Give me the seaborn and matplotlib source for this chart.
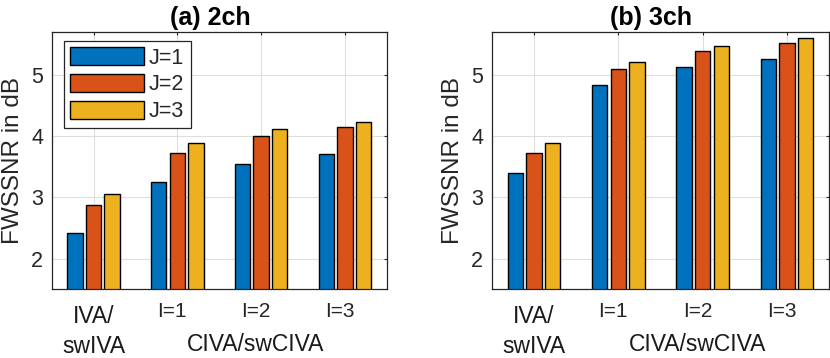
import matplotlib
matplotlib.use('Agg')
import matplotlib.pyplot as plt
import seaborn as sns
import pandas as pd
from matplotlib.transforms import ScaledTranslation, blended_transform_factory

# ---- data ----
groups = ['IVA/\nswIVA', 'I=1', 'I=2', 'I=3']
j_labels = ['J=1', 'J=2', 'J=3']
ch2_j1 = [2.42, 3.25, 3.55, 3.71]
ch2_j2 = [2.87, 3.72, 4.00, 4.15]
ch2_j3 = [3.05, 3.88, 4.11, 4.23]
ch3_j1 = [3.39, 4.83, 5.13, 5.26]
ch3_j2 = [3.73, 5.10, 5.39, 5.52]
ch3_j3 = [3.88, 5.21, 5.46, 5.59]
titles = ['(a) 2ch', '(b) 3ch']
group_caption = 'CIVA/swCIVA'
ylabel = 'FWSSNR in dB'
yticks = [2, 3, 4, 5]
colors = ['#0072BD', '#D95319', '#EDB120']


def long_df(j1, j2, j3):
    rows = []
    for jl, vals in zip(j_labels, [j1, j2, j3]):
        for g, v in zip(groups, vals):
            rows.append({'group': g, 'J': jl, 'value': v})
    return pd.DataFrame(rows)


panels = [long_df(ch2_j1, ch2_j2, ch2_j3), long_df(ch3_j1, ch3_j2, ch3_j3)]

sns.set_style('white')
plt.rcParams['font.family'] = ['Liberation Sans', 'DejaVu Sans']
dark = '#262626'

fig = plt.figure(figsize=(8.3, 3.58), dpi=100)
W, H = 830, 358
ax_rects = [
    [51.7 / W, (H - 289.3) / H, 335.0 / W, 257.6 / H],
    [491.7 / W, (H - 289.3) / H, 337.6 / W, 257.6 / H],
]

for i, (df, rect, title) in enumerate(zip(panels, ax_rects, titles)):
    ax = fig.add_axes(rect)
    sns.barplot(data=df, x='group', y='value', hue='J', order=groups,
                hue_order=j_labels, palette=colors, saturation=1,
                width=0.663, gap=0.17, edgecolor='black', linewidth=1.0,
                errorbar=None, ax=ax, legend=(i == 0))
    ax.set_xlim(-0.5, 3.5)
    ax.set_ylim(1.5, 5.7)
    ax.set_yticks(yticks)
    ax.set_axisbelow(True)
    ax.grid(True, color='#dedede', linewidth=0.8)
    ax.tick_params(direction='in', length=2.5, top=True, right=True,
                   color=dark, labelcolor=dark, labelsize=15.5, pad=6)
    ax.tick_params(axis='x', pad=9)
    for sp in ax.spines.values():
        sp.set_visible(True)
        sp.set_color(dark)
        sp.set_linewidth(0.9)
    ax.set_xticks(range(len(groups)))
    ax.set_xticklabels(groups)
    for k, lab in enumerate(ax.get_xticklabels()):
        if k == 0:
            lab.set_fontsize(16.5)
            lab.set_linespacing(1.4)
            lab.set_color('#1a1a1a')
            lab.set_transform(lab.get_transform() +
                              ScaledTranslation(0, -3 / 100, fig.dpi_scale_trans))
        else:
            lab.set_fontsize(15)
            lab.set_transform(lab.get_transform() +
                              ScaledTranslation(-5 / 100, 0, fig.dpi_scale_trans))
    ax.set_xlabel('')
    ax.set_ylabel(ylabel, fontsize=17.5, color=dark, labelpad=5)
    trans = blended_transform_factory(ax.transData, ax.transAxes)
    ax.text(1.94, -0.2395, group_caption, transform=trans, ha='center',
            va='baseline', fontsize=16.5, color='#1a1a1a')
    ax.set_title(title, fontweight='bold', fontsize=18, x=0.473, pad=5,
                 color='black')
    if i == 0:
        h, l = ax.get_legend_handles_labels()
        ax.legend(h, l, loc='upper left', bbox_to_anchor=(0.0367, 0.965),
                  borderaxespad=0, fontsize=15.5, handlelength=3.4,
                  handleheight=0.9, handletextpad=0.25, labelspacing=0.25,
                  borderpad=0.3, fancybox=False, framealpha=1,
                  edgecolor=dark, title=None)
        ax.get_legend().get_frame().set_linewidth(0.9)

fig.savefig('out.png', dpi=100)
